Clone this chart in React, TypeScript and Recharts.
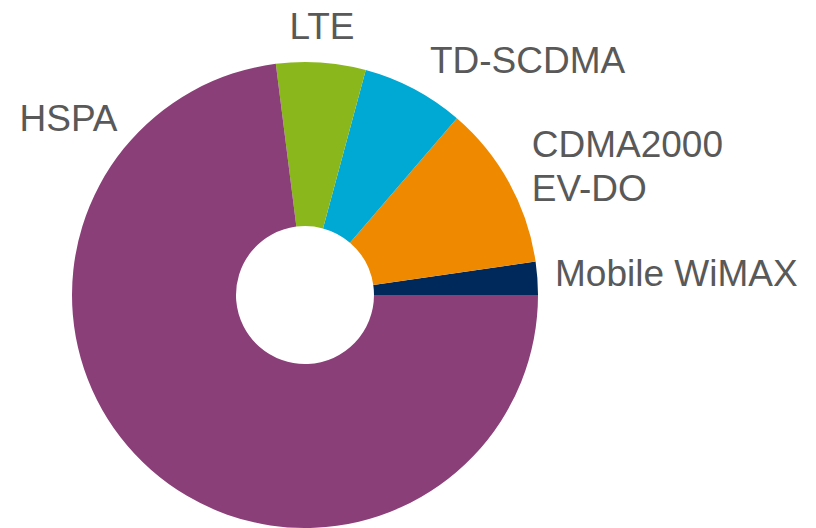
import React from "react";
import { PieChart, Pie, Cell } from "recharts";

const technologies = ["Mobile WiMAX", "CDMA2000\nEV-DO", "TD-SCDMA", "LTE", "HSPA"];
const shares = [2.3, 11.4, 7.1, 6.2, 73.0];
const colors = ["#00295B", "#EF8A00", "#00A8D4", "#8AB81C", "#8B3F78"];

const data = technologies.map((name, i) => ({ name, value: shares[i] }));

const RAD = Math.PI / 180;

// label placement: gap beyond outer radius, text anchor, optional angle override
const labelPlacement: Record<string, { gap: number; anchor: "start" | "middle" | "end"; angle?: number }> = {
  "Mobile WiMAX": { gap: 18, anchor: "start", angle: 5 },
  "CDMA2000\nEV-DO": { gap: 28, anchor: "start", angle: 29.7 },
  "TD-SCDMA": { gap: 33, anchor: "start", angle: 62 },
  LTE: { gap: 37, anchor: "middle", angle: 86.4 },
  HSPA: { gap: 25, anchor: "end", angle: 136.6 },
};

const renderLabel = (props: any) => {
  const { cx, cy, outerRadius, midAngle, name } = props;
  const p = labelPlacement[name] || { gap: 20, anchor: "middle" };
  const ang = p.angle !== undefined ? p.angle : midAngle;
  const r = outerRadius + p.gap;
  const x = cx + r * Math.cos(-ang * RAD);
  const y = cy + r * Math.sin(-ang * RAD);
  const lines = String(name).split("\n");
  const lh = 44;
  const y0 = y - ((lines.length - 1) * lh) / 2;
  return (
    <text
      x={x}
      y={y0}
      textAnchor={p.anchor}
      dominantBaseline="central"
      fill="#595959"
      fontSize={37}
      fontFamily="'Liberation Sans', Arial, sans-serif"
    >
      {lines.map((l, i) => (
        <tspan key={i} x={x} y={y0 + i * lh} dominantBaseline="central">
          {l}
        </tspan>
      ))}
    </text>
  );
};

export default function App() {
  return (
    <div style={{ width: 800, height: 520 }}>
      <PieChart width={800} height={520} margin={{ top: 0, right: 0, bottom: 0, left: 0 }}>
        <Pie
          data={data}
          dataKey="value"
          nameKey="name"
          cx={297}
          cy={287}
          innerRadius={69}
          outerRadius={233}
          startAngle={0}
          endAngle={360}
          stroke="none"
          label={renderLabel}
          labelLine={false}
          isAnimationActive={false}
        >
          {data.map((d, i) => (
            <Cell key={d.name} fill={colors[i]} />
          ))}
        </Pie>
      </PieChart>
    </div>
  );
}
